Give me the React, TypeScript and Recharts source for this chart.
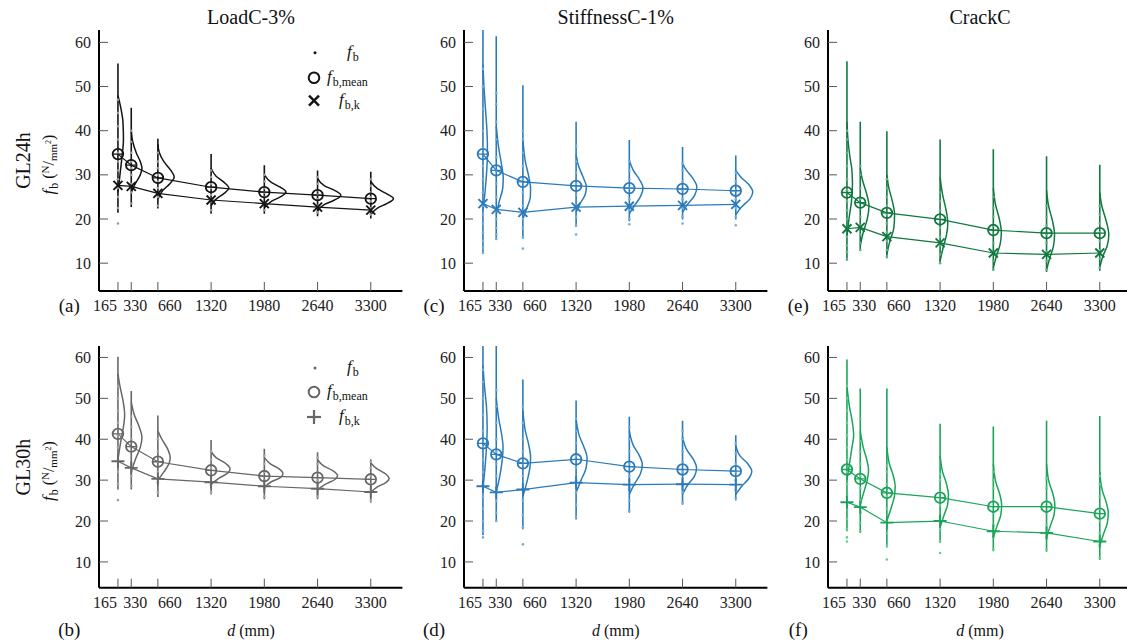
import React from "react";
import { ComposedChart, Line, Scatter, XAxis, YAxis } from "recharts";

const FONT = '"Liberation Serif", "DejaVu Serif", serif';

// beam depth d (mm) and bending strength ticks
const depths = [165, 330, 660, 1320, 1980, 2640, 3300];
const yTicks = [10, 20, 30, 40, 50, 60];

const X_DOMAIN: [number, number] = [-70, 3692];
const Y_DOMAIN: [number, number] = [3.7, 62.8];
const DENSITY_WIDTH = 1240; // mm of the d axis per unit of density

// ---- GL24h, LoadC-3% ----
const meanA = [34.7, 32.2, 29.3, 27.2, 26.1, 25.4, 24.6];
const charA = [27.6, 27.4, 25.8, 24.3, 23.5, 22.7, 22.0];
const loA = [21.4, 22.7, 22.4, 21.2, 21.2, 20.6, 20.1];
const hiA = [55.2, 45.2, 38.2, 34.7, 32.2, 31.0, 30.7];
const dotsA = [
  [19.0, 22.5, 25, 27, 29, 31, 33, 35, 38, 41, 44, 47],
  [23.5, 26, 28, 30, 31.5, 33, 35, 37.5, 40],
  [23, 25, 27, 28.5, 30, 31.5, 33, 35],
  [22, 24, 25.5, 27, 28, 29.5, 31],
  [22, 23.5, 25, 26, 27, 28.5, 30],
  [21.5, 23, 24.5, 25.5, 26.5, 28, 29.5],
  [21, 22.5, 24, 25, 26, 27.5, 29],
];
const densA = [
  [[26, 0], [30, 0.02], [34, 0.04], [38, 0.055], [42, 0.05], [45, 0.03], [48, 0]],
  [[26, 0], [28, 0.04], [30, 0.09], [31.5, 0.107], [33, 0.09], [35, 0.05], [37.5, 0.015], [40, 0]],
  [[24.5, 0], [26.5, 0.05], [28, 0.12], [29.5, 0.163], [31, 0.13], [33, 0.06], [35, 0.015], [37, 0]],
  [[23, 0], [24.5, 0.05], [25.8, 0.13], [27, 0.177], [28.3, 0.13], [29.7, 0.05], [31.5, 0]],
  [[22.5, 0], [24, 0.07], [25, 0.16], [26.1, 0.217], [27.2, 0.16], [28.3, 0.07], [30, 0]],
  [[21.8, 0], [23.3, 0.07], [24.3, 0.17], [25.4, 0.233], [26.5, 0.17], [27.5, 0.07], [29.2, 0]],
  [[21, 0], [22.5, 0.07], [23.5, 0.16], [24.6, 0.227], [25.7, 0.16], [26.8, 0.07], [28.5, 0]],
];

// ---- GL24h, StiffnessC-1% ----
const meanC = [34.7, 31.0, 28.4, 27.5, 27.0, 26.8, 26.4];
const charC = [23.5, 22.2, 21.5, 22.7, 22.9, 23.1, 23.3];
const loC = [12.2, 15.4, 15.6, 18.2, 19.5, 19.9, 19.9];
const hiC = [66, 61.4, 50.3, 42.0, 37.9, 36.3, 34.4];
const dotsC = [
  [12.3, 13.5, 15, 17, 19, 21, 23, 26, 29, 32, 36, 40, 45, 50, 54],
  [15.5, 16.5, 18, 20, 22, 25, 28, 31, 34, 38, 42, 46, 48.5],
  [13.3, 15.8, 18, 20, 23, 26, 29, 32, 35, 38, 40],
  [16.5, 18.5, 20.5, 23, 25.5, 28, 30.5, 33, 36.5],
  [18.8, 20, 22, 24.5, 27, 29, 31, 33],
  [19, 20.5, 22.5, 24.5, 26.5, 28.5, 31, 32.5],
  [18.6, 20.5, 22.5, 24.5, 26.5, 28.5, 30.5],
];
const densC = [
  [[22, 0], [26, 0.02], [30, 0.035], [35, 0.045], [40, 0.04], [45, 0.025], [50, 0.01], [55, 0]],
  [[21, 0], [24, 0.03], [27, 0.065], [29.5, 0.07], [32, 0.055], [36, 0.025], [41, 0]],
  [[20, 0], [22.5, 0.04], [25, 0.075], [27, 0.077], [29.5, 0.06], [33, 0.025], [38, 0]],
  [[21.5, 0], [23.5, 0.04], [25.5, 0.09], [27.3, 0.103], [29.5, 0.07], [32, 0.025], [34.6, 0]],
  [[21.2, 0], [23, 0.05], [25, 0.11], [27, 0.137], [29, 0.1], [31, 0.04], [33.3, 0]],
  [[21.5, 0], [23.3, 0.05], [25.3, 0.12], [27.3, 0.143], [29.3, 0.1], [31, 0.04], [32.5, 0]],
  [[21, 0], [22.8, 0.06], [24.5, 0.14], [26.1, 0.17], [27.8, 0.13], [29.5, 0.05], [31, 0]],
];

// ---- GL24h, CrackC ----
const meanE = [26.0, 23.7, 21.4, 19.9, 17.5, 16.8, 16.8];
const charE = [17.8, 18.1, 16.0, 14.6, 12.3, 12.0, 12.3];
const loE = [10.7, 12.9, 11.1, 9.9, 8.3, 8.0, 8.3];
const hiE = [55.7, 42.0, 39.9, 38.0, 35.8, 34.2, 32.3];
const dotsE = [
  [10.8, 12.5, 14, 16, 18, 20, 22, 24, 26.5, 29, 32, 35, 38, 40],
  [13, 14.5, 16.5, 18.5, 20.5, 22.5, 24.5, 27, 30, 32],
  [11.5, 13, 15, 17, 19, 21, 23, 25, 27, 29],
  [10, 12, 14, 16, 18, 20, 22, 24, 26],
  [8.5, 10.5, 12.5, 14.5, 16.5, 18.5, 20.5, 22.5, 25],
  [8.5, 10.5, 12.5, 14.5, 16.5, 18.5, 20.5, 23],
  [9, 11, 13, 15, 17, 19, 21, 23],
];
const densE = [
  [[16, 0], [20, 0.02], [24, 0.045], [28, 0.055], [31, 0.05], [34, 0.03], [38, 0.01], [42, 0]],
  [[14, 0], [17, 0.03], [20, 0.07], [23, 0.087], [26, 0.06], [29, 0.02], [31.5, 0]],
  [[12, 0], [15, 0.03], [18, 0.07], [21, 0.077], [24, 0.055], [27, 0.02], [30, 0]],
  [[10.5, 0], [13.5, 0.03], [16.5, 0.065], [19, 0.077], [22, 0.06], [25.5, 0.025], [29.5, 0]],
  [[9, 0], [11.5, 0.03], [14.5, 0.07], [17, 0.08], [20, 0.06], [23.5, 0.02], [27, 0]],
  [[8.5, 0], [11, 0.03], [14, 0.07], [16.5, 0.08], [19.5, 0.06], [23, 0.02], [26.5, 0]],
  [[9, 0], [11.5, 0.03], [14, 0.075], [16.5, 0.09], [19.5, 0.065], [23, 0.02], [26, 0]],
];

// ---- GL30h, LoadC-3% ----
const meanB = [41.3, 38.2, 34.5, 32.4, 31.0, 30.6, 30.2];
const charB = [34.6, 33.0, 30.3, 29.5, 28.5, 27.9, 27.1];
const loB = [27.7, 27.7, 25.9, 26.5, 25.3, 25.3, 24.5];
const hiB = [60.2, 51.8, 45.8, 39.8, 37.7, 36.8, 35.1];
const dotsB = [
  [25.1, 29, 32, 35, 38, 41, 44, 47, 50, 53],
  [28.5, 31, 34, 37, 40, 43, 45.5],
  [27, 29.5, 32, 34.5, 37, 40],
  [27, 29, 31, 33, 35, 37],
  [26, 28, 30, 32, 34, 36],
  [26, 28, 30, 32, 34, 35.5],
  [25, 27, 29, 31, 33, 34.5],
];
const densB = [
  [[35, 0], [39, 0.025], [43, 0.055], [46, 0.067], [49.5, 0.05], [53, 0.02], [56, 0]],
  [[32, 0], [35, 0.04], [38, 0.09], [40.5, 0.107], [43, 0.08], [46, 0.03], [49, 0]],
  [[30, 0], [32, 0.06], [34, 0.11], [35.5, 0.123], [37.5, 0.1], [40, 0.04], [42, 0]],
  [[29, 0], [30.5, 0.08], [31.8, 0.17], [32.8, 0.19], [34, 0.15], [35.5, 0.05], [37, 0]],
  [[28.2, 0], [29.6, 0.07], [30.6, 0.16], [31.6, 0.187], [32.7, 0.15], [34, 0.06], [35.5, 0]],
  [[27.6, 0], [29, 0.08], [30.1, 0.17], [31.1, 0.2], [32.2, 0.16], [33.5, 0.06], [35, 0]],
  [[27, 0], [28.4, 0.07], [29.4, 0.15], [30.4, 0.183], [31.5, 0.15], [32.8, 0.06], [34.2, 0]],
];

// ---- GL30h, StiffnessC-1% ----
const meanD = [39.0, 36.3, 34.1, 35.1, 33.3, 32.6, 32.2];
const charD = [28.5, 27.0, 27.7, 29.4, 28.9, 29.0, 28.9];
const loD = [16.5, 19.9, 18.0, 20.4, 22.0, 24.0, 25.0];
const hiD = [66, 63.5, 54.6, 49.5, 45.5, 44.5, 41.0];
const dotsD = [
  [16, 17.5, 20, 23, 26, 29, 32, 35, 38, 42, 46, 50, 54, 57],
  [20, 22, 25, 28, 31, 34, 37, 40, 44, 48, 52],
  [14.3, 18.5, 21.5, 25, 28, 31, 34, 37, 40, 44, 48],
  [21, 24, 27, 30, 33, 36, 39, 42, 45],
  [22.5, 25, 28, 31, 34, 37, 40, 43],
  [24.5, 27, 29.5, 32, 34.5, 37, 40, 42],
  [25.5, 27.5, 30, 32, 34, 36.5, 39],
];
const densD = [
  [[28, 0], [33, 0.02], [38, 0.035], [43, 0.042], [48, 0.035], [53, 0.015], [58, 0]],
  [[27, 0], [31, 0.035], [35, 0.06], [38, 0.068], [41, 0.055], [45, 0.025], [50, 0]],
  [[26, 0], [29.5, 0.04], [33, 0.07], [35.5, 0.077], [38.5, 0.06], [42, 0.025], [47, 0]],
  [[27, 0], [30, 0.05], [33, 0.1], [35.5, 0.11], [38, 0.08], [41, 0.03], [45, 0]],
  [[26.5, 0], [29, 0.05], [31.5, 0.11], [33.8, 0.13], [36, 0.1], [38.5, 0.04], [42, 0]],
  [[26.5, 0], [28.8, 0.05], [31, 0.12], [33, 0.14], [35, 0.11], [37.5, 0.04], [40.5, 0]],
  [[26.5, 0], [28.5, 0.06], [30.4, 0.13], [32.2, 0.16], [34, 0.12], [36, 0.04], [38.5, 0]],
];

// ---- GL30h, CrackC ----
const meanF = [32.6, 30.3, 26.9, 25.7, 23.5, 23.5, 21.8];
const charF = [24.6, 23.4, 19.6, 20.0, 17.5, 17.1, 15.0];
const loF = [17.5, 17.1, 13.5, 14.7, 12.6, 12.5, 10.5];
const hiF = [59.5, 52.4, 52.4, 43.8, 43.1, 44.5, 45.7];
const dotsF = [
  [15, 16, 18, 20.5, 23, 26, 29, 32, 35, 38, 41, 44, 47, 50, 53],
  [17.5, 19.5, 22, 25, 28, 31, 34, 37, 39.5, 45],
  [10.6, 14, 17, 20, 23, 26, 29, 32, 33.5],
  [12.2, 15, 18, 21, 24, 27, 30, 31.5],
  [13, 16, 19, 22, 25, 28, 30, 32],
  [13, 16, 19, 22, 25, 28, 30.5],
  [11, 14, 17, 20, 23, 26, 29, 31],
];
const densF = [
  [[30, 0], [34, 0.025], [38, 0.05], [41, 0.067], [44, 0.055], [48, 0.025], [53, 0]],
  [[24, 0], [27, 0.035], [30, 0.07], [32.5, 0.083], [35, 0.065], [38, 0.03], [42, 0]],
  [[20, 0], [23, 0.04], [26, 0.075], [28.5, 0.083], [31, 0.065], [34, 0.025], [38, 0]],
  [[18.5, 0], [21.5, 0.04], [24, 0.075], [26.5, 0.083], [29, 0.065], [32, 0.025], [36, 0]],
  [[16, 0], [19, 0.04], [21.5, 0.075], [24, 0.083], [26.5, 0.065], [29.5, 0.025], [34, 0]],
  [[16, 0], [19, 0.04], [21.5, 0.075], [24, 0.083], [26.5, 0.065], [29.5, 0.025], [34, 0]],
  [[14, 0], [17, 0.04], [19.5, 0.075], [22, 0.085], [24.5, 0.065], [27.5, 0.025], [32, 0]],
];

// layout
const Y_W = 45;
const X_H = 30;
const RIGHT = 4;
const PLOT_W = 303.4;
const COL_LEFT = [99.3, 464, 828.3];
const ROWS = [
  { top: 30, h: 261, label: "GL24h", capY: 311.5 },
  { top: 346.3, h: 241.7, label: "GL30h", capY: 636 },
];
const titles = ["LoadC-3%", "StiffnessC-1%", "CrackC"];
// the three crowded labels at the small depths are pushed apart
const TICK_NUDGE: Record<number, number> = { 165: -13, 330: 4, 660: 12 };

type Series = {
  mean: number[];
  charv: number[];
  lo: number[];
  hi: number[];
  dots: number[][];
  dens: number[][][];
};

const panels = [
  { cap: "(a)", row: 0, col: 0, color: "#141414", dotColor: "#9c9c9c", marker: "x", s: { mean: meanA, charv: charA, lo: loA, hi: hiA, dots: dotsA, dens: densA } },
  { cap: "(c)", row: 0, col: 1, color: "#2b7bba", dotColor: "#78acd9", marker: "x", s: { mean: meanC, charv: charC, lo: loC, hi: hiC, dots: dotsC, dens: densC } },
  { cap: "(e)", row: 0, col: 2, color: "#11783f", dotColor: "#6bb08a", marker: "x", s: { mean: meanE, charv: charE, lo: loE, hi: hiE, dots: dotsE, dens: densE } },
  { cap: "(b)", row: 1, col: 0, color: "#676767", dotColor: "#a5a5a5", marker: "+", s: { mean: meanB, charv: charB, lo: loB, hi: hiB, dots: dotsB, dens: densB } },
  { cap: "(d)", row: 1, col: 1, color: "#2b7bba", dotColor: "#78acd9", marker: "+", s: { mean: meanD, charv: charD, lo: loD, hi: hiD, dots: dotsD, dens: densD } },
  { cap: "(f)", row: 1, col: 2, color: "#1aa55a", dotColor: "#6cca95", marker: "+", s: { mean: meanF, charv: charF, lo: loF, hi: hiF, dots: dotsF, dens: densF } },
];

const XTick = (props: any) => {
  const { x, y, payload } = props;
  const nudge = TICK_NUDGE[payload.value] || 0;
  return (
    <g>
      <line x1={x} x2={x} y1={y} y2={y - 9} stroke="#555" strokeWidth={1} />
      <text x={x + nudge} y={y + 20} textAnchor="middle" fontFamily={FONT} fontSize={16} fill="#222">
        {payload.value}
      </text>
    </g>
  );
};

const YTick = (props: any) => {
  const { x, y, payload } = props;
  return (
    <g>
      <line x1={x} x2={x + 9} y1={y} y2={y} stroke="#555" strokeWidth={1} />
      <text x={x - 8} y={y} dy="0.35em" textAnchor="end" fontFamily={FONT} fontSize={16} fill="#222">
        {payload.value}
      </text>
    </g>
  );
};

function PanelChart({ s, left, top, h, color, dotColor, marker }: { s: Series; left: number; top: number; h: number; color: string; dotColor: string; marker: string }) {
  const meanPts = depths.map((x, i) => ({ x, y: s.mean[i] }));
  const charPts = depths.map((x, i) => ({ x, y: s.charv[i] }));
  const dotPts = depths.flatMap((x, i) => s.dots[i].map((y) => ({ x, y })));

  const dotShape = (p: any) => <circle cx={p.cx} cy={p.cy} r={1.3} fill={dotColor} />;
  const meanShape = (p: any) => (
    <g>
      <circle cx={p.cx} cy={p.cy} r={5.3} fill="none" stroke={color} strokeWidth={1.8} />
      <line x1={p.cx - 5.3} x2={p.cx + 5.3} y1={p.cy} y2={p.cy} stroke={color} strokeWidth={1.3} />
    </g>
  );
  const charShape = (p: any) =>
    marker === "x" ? (
      <g stroke={color} strokeWidth={1.9}>
        <line x1={p.cx - 4.5} x2={p.cx + 4.5} y1={p.cy - 4.5} y2={p.cy + 4.5} />
        <line x1={p.cx - 4.5} x2={p.cx + 4.5} y1={p.cy + 4.5} y2={p.cy - 4.5} />
      </g>
    ) : (
      <g stroke={color} strokeWidth={1.9}>
        <line x1={p.cx - 6.5} x2={p.cx + 6.5} y1={p.cy} y2={p.cy} />
        <line x1={p.cx} x2={p.cx} y1={p.cy - 6.5} y2={p.cy + 6.5} />
      </g>
    );

  return (
    <div style={{ position: "absolute", left: left - Y_W, top }}>
      <ComposedChart width={Y_W + PLOT_W + RIGHT} height={h + X_H} margin={{ top: 0, right: RIGHT, bottom: 0, left: 0 }}>
        <XAxis
          type="number"
          dataKey="x"
          domain={X_DOMAIN}
          allowDataOverflow
          ticks={depths}
          interval={0}
          tickSize={0}
          tickMargin={0}
          tickLine={false}
          axisLine={{ stroke: "#000", strokeWidth: 2 }}
          tick={(p: any) => <XTick {...p} />}
          height={X_H}
        />
        <YAxis
          type="number"
          dataKey="y"
          domain={Y_DOMAIN}
          allowDataOverflow
          ticks={yTicks}
          interval={0}
          tickSize={0}
          tickMargin={0}
          tickLine={false}
          axisLine={{ stroke: "#000", strokeWidth: 2 }}
          tick={(p: any) => <YTick {...p} />}
          width={Y_W}
        />
        {depths.map((x, i) => (
          <Line
            key={"range" + i}
            data={[{ x, y: s.lo[i] }, { x, y: s.hi[i] }]}
            dataKey="y"
            stroke={color}
            strokeWidth={1.6}
            dot={false}
            activeDot={false}
            isAnimationActive={false}
          />
        ))}
        {depths.map((x, i) => (
          <Line
            key={"kde" + i}
            data={s.dens[i].map(([v, d]) => ({ x: x + d * DENSITY_WIDTH, y: v }))}
            dataKey="y"
            type="monotoneY"
            stroke={color}
            strokeWidth={1.5}
            dot={false}
            activeDot={false}
            isAnimationActive={false}
          />
        ))}
        <Line data={meanPts} dataKey="y" stroke={color} strokeWidth={1.2} dot={false} activeDot={false} isAnimationActive={false} />
        <Line data={charPts} dataKey="y" stroke={color} strokeWidth={1.2} dot={false} activeDot={false} isAnimationActive={false} />
        <Scatter data={dotPts} dataKey="y" shape={dotShape} isAnimationActive={false} />
        <Scatter data={meanPts} dataKey="y" shape={meanShape} isAnimationActive={false} />
        <Scatter data={charPts} dataKey="y" shape={charShape} isAnimationActive={false} />
      </ComposedChart>
    </div>
  );
}

function FbLabel({ size }: { size: number }) {
  return (
    <>
      <tspan fontStyle="italic" fontSize={size + 1}>f</tspan>
      <tspan dx={1} dy={4} fontSize={size - 4}>b</tspan>
    </>
  );
}

function Legend({ y, color, marker }: { y: number[]; color: string; marker: string }) {
  const mx = 314;
  return (
    <g fontFamily={FONT} fill="#111">
      <circle cx={mx + 1} cy={y[0]} r={1.5} fill={color} />
      <text x={347} y={y[0] + 4} fontSize={16}>
        <FbLabel size={16} />
      </text>
      <circle cx={mx} cy={y[1]} r={5.3} fill="none" stroke={color} strokeWidth={2} />
      <text x={327} y={y[1] + 4} fontSize={16}>
        <FbLabel size={16} />
        <tspan fontSize={12}>,mean</tspan>
      </text>
      {marker === "x" ? (
        <g stroke={color} strokeWidth={2.4}>
          <line x1={mx - 5} x2={mx + 5} y1={y[2] - 5} y2={y[2] + 5} />
          <line x1={mx - 5} x2={mx + 5} y1={y[2] + 5} y2={y[2] - 5} />
        </g>
      ) : (
        <g stroke={color} strokeWidth={2.2}>
          <line x1={mx - 7} x2={mx + 7} y1={y[2]} y2={y[2]} />
          <line x1={mx} x2={mx} y1={y[2] - 7} y2={y[2] + 7} />
        </g>
      )}
      <text x={339} y={y[2] + 4} fontSize={16}>
        <FbLabel size={16} />
        <tspan fontSize={12}>,k</tspan>
      </text>
    </g>
  );
}

export default function App() {
  return (
    <div style={{ position: "absolute", left: 0, top: 0, width: 1127, height: 644, background: "#fff" }}>
      {panels.map((p) => (
        <PanelChart
          key={p.cap}
          s={p.s}
          left={COL_LEFT[p.col]}
          top={ROWS[p.row].top}
          h={ROWS[p.row].h}
          color={p.color}
          dotColor={p.dotColor}
          marker={p.marker}
        />
      ))}
      <svg width={1127} height={644} style={{ position: "absolute", left: 0, top: 0, pointerEvents: "none" }}>
        <g fontFamily={FONT} fill="#111">
          {titles.map((t, i) => (
            <text key={t} x={COL_LEFT[i] + PLOT_W / 2} y={24} textAnchor="middle" fontSize={20}>
              {t}
            </text>
          ))}
          {ROWS.map((r) => {
            const cy = r.top + r.h / 2;
            return (
              <g key={r.label}>
                <text transform={`translate(30,${cy}) rotate(-90)`} textAnchor="middle" fontSize={20}>
                  {r.label}
                </text>
                <text transform={`translate(54,${cy + 4}) rotate(-90)`} textAnchor="middle" fontSize={16}>
                  <FbLabel size={16} />
                  <tspan dy={-4} fontSize={16}> (</tspan>
                  <tspan dy={-5} fontSize={11}>N</tspan>
                  <tspan dy={5} fontSize={16}>/</tspan>
                  <tspan dy={3} fontSize={11}>mm</tspan>
                  <tspan dy={-6} fontSize={8}>2</tspan>
                  <tspan dy={3} fontSize={16}>)</tspan>
                </text>
              </g>
            );
          })}
          {panels.map((p) => (
            <text key={p.cap} x={COL_LEFT[p.col] - 30} y={ROWS[p.row].capY} textAnchor="middle" fontSize={19}>
              {p.cap}
            </text>
          ))}
          {COL_LEFT.map((l) => (
            <text key={l} x={l + PLOT_W / 2} y={636} textAnchor="middle" fontSize={16}>
              <tspan fontStyle="italic">d</tspan> (mm)
            </text>
          ))}
        </g>
        <Legend y={[52.7, 77.7, 100.7]} color="#141414" marker="x" />
        <Legend y={[368, 392, 417]} color="#676767" marker="+" />
      </svg>
    </div>
  );
}
